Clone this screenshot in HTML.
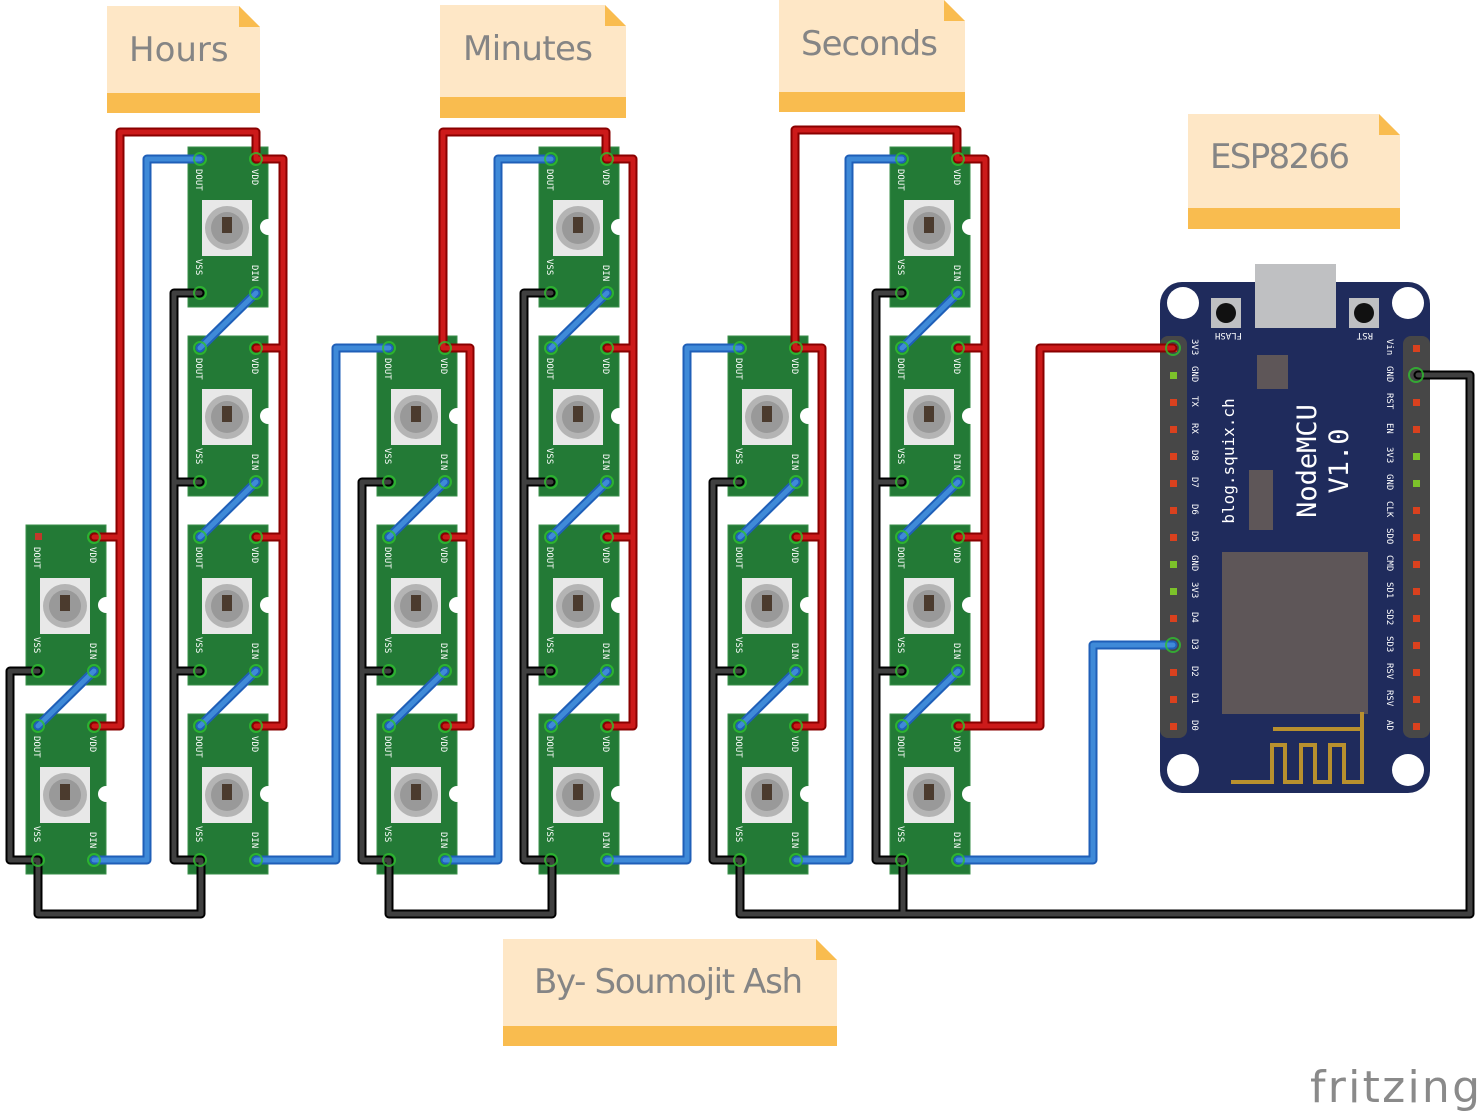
<!DOCTYPE html>
<html><head><meta charset="utf-8"><style>
html,body{margin:0;padding:0;background:#fff;}
svg{display:block}
.pcb{fill:#237a36;stroke:#3a8f4a;stroke-width:1}
.l{font-family:"DejaVu Sans Mono","Liberation Mono",monospace;font-size:9px;fill:#fff}
.pl{font-family:"DejaVu Sans Mono","Liberation Mono",monospace;font-size:9px;fill:#fff}
.note{font-family:"DejaVu Sans","Liberation Sans",sans-serif;font-size:34px;fill:#858585}
.ro{fill:none;stroke:#8a0000;stroke-width:9;stroke-linecap:round;stroke-linejoin:round}
.ri{fill:none;stroke:#cc1a1a;stroke-width:5;stroke-linecap:round;stroke-linejoin:round}
.bo{fill:none;stroke:#1f5fb8;stroke-width:9;stroke-linecap:round;stroke-linejoin:round}
.bi{fill:none;stroke:#3f8ad8;stroke-width:5;stroke-linecap:round;stroke-linejoin:round}
.ko{fill:none;stroke:#000;stroke-width:9;stroke-linecap:round;stroke-linejoin:round}
.ki{fill:none;stroke:#404040;stroke-width:5;stroke-linecap:round;stroke-linejoin:round}
.pad{fill:none;stroke:#2fc02f;stroke-width:2;opacity:.8}
</style></head><body>
<svg width="1482" height="1116" viewBox="0 0 1482 1116" xmlns="http://www.w3.org/2000/svg">

<!-- Notes -->
<g>
<polygon points="107,6 239,6 260,27 260,113 107,113" fill="#fee7c6"/><polygon points="239,6 260,27 239,27" fill="#f9bc4f"/><rect x="107" y="93" width="153" height="20" fill="#f9bc4f"/>
<text class="note" x="129" y="61">Hours</text>
<polygon points="440,5 605,5 626,26 626,118 440,118" fill="#fee7c6"/><polygon points="605,5 626,26 605,26" fill="#f9bc4f"/><rect x="440" y="97" width="186" height="21" fill="#f9bc4f"/>
<text class="note" x="463" y="60" textLength="130">Minutes</text>
<polygon points="779,0 944,0 965,21 965,112 779,112" fill="#fee7c6"/><polygon points="944,0 965,21 944,21" fill="#f9bc4f"/><rect x="779" y="92" width="186" height="20" fill="#f9bc4f"/>
<text class="note" x="801" y="55" textLength="137">Seconds</text>
<polygon points="1188,114 1379,114 1400,135 1400,229 1188,229" fill="#fee7c6"/><polygon points="1379,114 1400,135 1379,135" fill="#f9bc4f"/><rect x="1188" y="208" width="212" height="21" fill="#f9bc4f"/>
<text class="note" x="1210" y="168" textLength="140">ESP8266</text>
<polygon points="503,939 816,939 837,960 837,1046 503,1046" fill="#fee7c6"/><polygon points="816,939 837,960 816,960" fill="#f9bc4f"/><rect x="503" y="1026" width="334" height="20" fill="#f9bc4f"/>
<text class="note" x="534" y="993" textLength="269">By- Soumojit Ash</text>
</g>

<!-- LED modules -->
<g id="mods">
<g transform="translate(26,525)"><rect class="pcb" width="80" height="160"/><rect x="14" y="53" width="50" height="56" fill="#e8e8e8"/><circle cx="39" cy="81" r="22" fill="#b4b4b4"/><circle cx="39" cy="81" r="16" fill="#999"/><rect x="34" y="70" width="10" height="16" fill="#4b3b2e"/><circle cx="80" cy="80" r="8" fill="#fff"/><text class="l" transform="translate(8,22) rotate(90)">DOUT</text><text class="l" transform="translate(64,22) rotate(90)">VDD</text><text class="l" transform="translate(8,112) rotate(90)">VSS</text><text class="l" transform="translate(64,118) rotate(90)">DIN</text><rect x="9" y="8" width="7" height="7" fill="#c0392b"/></g>
<g transform="translate(26,714)"><rect class="pcb" width="80" height="160"/><rect x="14" y="53" width="50" height="56" fill="#e8e8e8"/><circle cx="39" cy="81" r="22" fill="#b4b4b4"/><circle cx="39" cy="81" r="16" fill="#999"/><rect x="34" y="70" width="10" height="16" fill="#4b3b2e"/><circle cx="80" cy="80" r="8" fill="#fff"/><text class="l" transform="translate(8,22) rotate(90)">DOUT</text><text class="l" transform="translate(64,22) rotate(90)">VDD</text><text class="l" transform="translate(8,112) rotate(90)">VSS</text><text class="l" transform="translate(64,118) rotate(90)">DIN</text></g>

<g transform="translate(188,147)"><rect class="pcb" width="80" height="160"/><rect x="14" y="53" width="50" height="56" fill="#e8e8e8"/><circle cx="39" cy="81" r="22" fill="#b4b4b4"/><circle cx="39" cy="81" r="16" fill="#999"/><rect x="34" y="70" width="10" height="16" fill="#4b3b2e"/><circle cx="80" cy="80" r="8" fill="#fff"/><text class="l" transform="translate(8,22) rotate(90)">DOUT</text><text class="l" transform="translate(64,22) rotate(90)">VDD</text><text class="l" transform="translate(8,112) rotate(90)">VSS</text><text class="l" transform="translate(64,118) rotate(90)">DIN</text></g>
<g transform="translate(188,336)"><rect class="pcb" width="80" height="160"/><rect x="14" y="53" width="50" height="56" fill="#e8e8e8"/><circle cx="39" cy="81" r="22" fill="#b4b4b4"/><circle cx="39" cy="81" r="16" fill="#999"/><rect x="34" y="70" width="10" height="16" fill="#4b3b2e"/><circle cx="80" cy="80" r="8" fill="#fff"/><text class="l" transform="translate(8,22) rotate(90)">DOUT</text><text class="l" transform="translate(64,22) rotate(90)">VDD</text><text class="l" transform="translate(8,112) rotate(90)">VSS</text><text class="l" transform="translate(64,118) rotate(90)">DIN</text></g>
<g transform="translate(188,525)"><rect class="pcb" width="80" height="160"/><rect x="14" y="53" width="50" height="56" fill="#e8e8e8"/><circle cx="39" cy="81" r="22" fill="#b4b4b4"/><circle cx="39" cy="81" r="16" fill="#999"/><rect x="34" y="70" width="10" height="16" fill="#4b3b2e"/><circle cx="80" cy="80" r="8" fill="#fff"/><text class="l" transform="translate(8,22) rotate(90)">DOUT</text><text class="l" transform="translate(64,22) rotate(90)">VDD</text><text class="l" transform="translate(8,112) rotate(90)">VSS</text><text class="l" transform="translate(64,118) rotate(90)">DIN</text></g>
<g transform="translate(188,714)"><rect class="pcb" width="80" height="160"/><rect x="14" y="53" width="50" height="56" fill="#e8e8e8"/><circle cx="39" cy="81" r="22" fill="#b4b4b4"/><circle cx="39" cy="81" r="16" fill="#999"/><rect x="34" y="70" width="10" height="16" fill="#4b3b2e"/><circle cx="80" cy="80" r="8" fill="#fff"/><text class="l" transform="translate(8,22) rotate(90)">DOUT</text><text class="l" transform="translate(64,22) rotate(90)">VDD</text><text class="l" transform="translate(8,112) rotate(90)">VSS</text><text class="l" transform="translate(64,118) rotate(90)">DIN</text></g>

<g transform="translate(377,336)"><rect class="pcb" width="80" height="160"/><rect x="14" y="53" width="50" height="56" fill="#e8e8e8"/><circle cx="39" cy="81" r="22" fill="#b4b4b4"/><circle cx="39" cy="81" r="16" fill="#999"/><rect x="34" y="70" width="10" height="16" fill="#4b3b2e"/><circle cx="80" cy="80" r="8" fill="#fff"/><text class="l" transform="translate(8,22) rotate(90)">DOUT</text><text class="l" transform="translate(64,22) rotate(90)">VDD</text><text class="l" transform="translate(8,112) rotate(90)">VSS</text><text class="l" transform="translate(64,118) rotate(90)">DIN</text></g>
<g transform="translate(377,525)"><rect class="pcb" width="80" height="160"/><rect x="14" y="53" width="50" height="56" fill="#e8e8e8"/><circle cx="39" cy="81" r="22" fill="#b4b4b4"/><circle cx="39" cy="81" r="16" fill="#999"/><rect x="34" y="70" width="10" height="16" fill="#4b3b2e"/><circle cx="80" cy="80" r="8" fill="#fff"/><text class="l" transform="translate(8,22) rotate(90)">DOUT</text><text class="l" transform="translate(64,22) rotate(90)">VDD</text><text class="l" transform="translate(8,112) rotate(90)">VSS</text><text class="l" transform="translate(64,118) rotate(90)">DIN</text></g>
<g transform="translate(377,714)"><rect class="pcb" width="80" height="160"/><rect x="14" y="53" width="50" height="56" fill="#e8e8e8"/><circle cx="39" cy="81" r="22" fill="#b4b4b4"/><circle cx="39" cy="81" r="16" fill="#999"/><rect x="34" y="70" width="10" height="16" fill="#4b3b2e"/><circle cx="80" cy="80" r="8" fill="#fff"/><text class="l" transform="translate(8,22) rotate(90)">DOUT</text><text class="l" transform="translate(64,22) rotate(90)">VDD</text><text class="l" transform="translate(8,112) rotate(90)">VSS</text><text class="l" transform="translate(64,118) rotate(90)">DIN</text></g>

<g transform="translate(539,147)"><rect class="pcb" width="80" height="160"/><rect x="14" y="53" width="50" height="56" fill="#e8e8e8"/><circle cx="39" cy="81" r="22" fill="#b4b4b4"/><circle cx="39" cy="81" r="16" fill="#999"/><rect x="34" y="70" width="10" height="16" fill="#4b3b2e"/><circle cx="80" cy="80" r="8" fill="#fff"/><text class="l" transform="translate(8,22) rotate(90)">DOUT</text><text class="l" transform="translate(64,22) rotate(90)">VDD</text><text class="l" transform="translate(8,112) rotate(90)">VSS</text><text class="l" transform="translate(64,118) rotate(90)">DIN</text></g>
<g transform="translate(539,336)"><rect class="pcb" width="80" height="160"/><rect x="14" y="53" width="50" height="56" fill="#e8e8e8"/><circle cx="39" cy="81" r="22" fill="#b4b4b4"/><circle cx="39" cy="81" r="16" fill="#999"/><rect x="34" y="70" width="10" height="16" fill="#4b3b2e"/><circle cx="80" cy="80" r="8" fill="#fff"/><text class="l" transform="translate(8,22) rotate(90)">DOUT</text><text class="l" transform="translate(64,22) rotate(90)">VDD</text><text class="l" transform="translate(8,112) rotate(90)">VSS</text><text class="l" transform="translate(64,118) rotate(90)">DIN</text></g>
<g transform="translate(539,525)"><rect class="pcb" width="80" height="160"/><rect x="14" y="53" width="50" height="56" fill="#e8e8e8"/><circle cx="39" cy="81" r="22" fill="#b4b4b4"/><circle cx="39" cy="81" r="16" fill="#999"/><rect x="34" y="70" width="10" height="16" fill="#4b3b2e"/><circle cx="80" cy="80" r="8" fill="#fff"/><text class="l" transform="translate(8,22) rotate(90)">DOUT</text><text class="l" transform="translate(64,22) rotate(90)">VDD</text><text class="l" transform="translate(8,112) rotate(90)">VSS</text><text class="l" transform="translate(64,118) rotate(90)">DIN</text></g>
<g transform="translate(539,714)"><rect class="pcb" width="80" height="160"/><rect x="14" y="53" width="50" height="56" fill="#e8e8e8"/><circle cx="39" cy="81" r="22" fill="#b4b4b4"/><circle cx="39" cy="81" r="16" fill="#999"/><rect x="34" y="70" width="10" height="16" fill="#4b3b2e"/><circle cx="80" cy="80" r="8" fill="#fff"/><text class="l" transform="translate(8,22) rotate(90)">DOUT</text><text class="l" transform="translate(64,22) rotate(90)">VDD</text><text class="l" transform="translate(8,112) rotate(90)">VSS</text><text class="l" transform="translate(64,118) rotate(90)">DIN</text></g>

<g transform="translate(728,336)"><rect class="pcb" width="80" height="160"/><rect x="14" y="53" width="50" height="56" fill="#e8e8e8"/><circle cx="39" cy="81" r="22" fill="#b4b4b4"/><circle cx="39" cy="81" r="16" fill="#999"/><rect x="34" y="70" width="10" height="16" fill="#4b3b2e"/><circle cx="80" cy="80" r="8" fill="#fff"/><text class="l" transform="translate(8,22) rotate(90)">DOUT</text><text class="l" transform="translate(64,22) rotate(90)">VDD</text><text class="l" transform="translate(8,112) rotate(90)">VSS</text><text class="l" transform="translate(64,118) rotate(90)">DIN</text></g>
<g transform="translate(728,525)"><rect class="pcb" width="80" height="160"/><rect x="14" y="53" width="50" height="56" fill="#e8e8e8"/><circle cx="39" cy="81" r="22" fill="#b4b4b4"/><circle cx="39" cy="81" r="16" fill="#999"/><rect x="34" y="70" width="10" height="16" fill="#4b3b2e"/><circle cx="80" cy="80" r="8" fill="#fff"/><text class="l" transform="translate(8,22) rotate(90)">DOUT</text><text class="l" transform="translate(64,22) rotate(90)">VDD</text><text class="l" transform="translate(8,112) rotate(90)">VSS</text><text class="l" transform="translate(64,118) rotate(90)">DIN</text></g>
<g transform="translate(728,714)"><rect class="pcb" width="80" height="160"/><rect x="14" y="53" width="50" height="56" fill="#e8e8e8"/><circle cx="39" cy="81" r="22" fill="#b4b4b4"/><circle cx="39" cy="81" r="16" fill="#999"/><rect x="34" y="70" width="10" height="16" fill="#4b3b2e"/><circle cx="80" cy="80" r="8" fill="#fff"/><text class="l" transform="translate(8,22) rotate(90)">DOUT</text><text class="l" transform="translate(64,22) rotate(90)">VDD</text><text class="l" transform="translate(8,112) rotate(90)">VSS</text><text class="l" transform="translate(64,118) rotate(90)">DIN</text></g>

<g transform="translate(890,147)"><rect class="pcb" width="80" height="160"/><rect x="14" y="53" width="50" height="56" fill="#e8e8e8"/><circle cx="39" cy="81" r="22" fill="#b4b4b4"/><circle cx="39" cy="81" r="16" fill="#999"/><rect x="34" y="70" width="10" height="16" fill="#4b3b2e"/><circle cx="80" cy="80" r="8" fill="#fff"/><text class="l" transform="translate(8,22) rotate(90)">DOUT</text><text class="l" transform="translate(64,22) rotate(90)">VDD</text><text class="l" transform="translate(8,112) rotate(90)">VSS</text><text class="l" transform="translate(64,118) rotate(90)">DIN</text></g>
<g transform="translate(890,336)"><rect class="pcb" width="80" height="160"/><rect x="14" y="53" width="50" height="56" fill="#e8e8e8"/><circle cx="39" cy="81" r="22" fill="#b4b4b4"/><circle cx="39" cy="81" r="16" fill="#999"/><rect x="34" y="70" width="10" height="16" fill="#4b3b2e"/><circle cx="80" cy="80" r="8" fill="#fff"/><text class="l" transform="translate(8,22) rotate(90)">DOUT</text><text class="l" transform="translate(64,22) rotate(90)">VDD</text><text class="l" transform="translate(8,112) rotate(90)">VSS</text><text class="l" transform="translate(64,118) rotate(90)">DIN</text></g>
<g transform="translate(890,525)"><rect class="pcb" width="80" height="160"/><rect x="14" y="53" width="50" height="56" fill="#e8e8e8"/><circle cx="39" cy="81" r="22" fill="#b4b4b4"/><circle cx="39" cy="81" r="16" fill="#999"/><rect x="34" y="70" width="10" height="16" fill="#4b3b2e"/><circle cx="80" cy="80" r="8" fill="#fff"/><text class="l" transform="translate(8,22) rotate(90)">DOUT</text><text class="l" transform="translate(64,22) rotate(90)">VDD</text><text class="l" transform="translate(8,112) rotate(90)">VSS</text><text class="l" transform="translate(64,118) rotate(90)">DIN</text></g>
<g transform="translate(890,714)"><rect class="pcb" width="80" height="160"/><rect x="14" y="53" width="50" height="56" fill="#e8e8e8"/><circle cx="39" cy="81" r="22" fill="#b4b4b4"/><circle cx="39" cy="81" r="16" fill="#999"/><rect x="34" y="70" width="10" height="16" fill="#4b3b2e"/><circle cx="80" cy="80" r="8" fill="#fff"/><text class="l" transform="translate(8,22) rotate(90)">DOUT</text><text class="l" transform="translate(64,22) rotate(90)">VDD</text><text class="l" transform="translate(8,112) rotate(90)">VSS</text><text class="l" transform="translate(64,118) rotate(90)">DIN</text></g>
</g>

<!-- NodeMCU -->
<g>
<rect x="1255" y="264" width="81" height="64" fill="#bfc0c2"/>
<rect x="1160" y="282" width="270" height="511" rx="22" fill="#1f2b5c"/>
<rect x="1255" y="264" width="81" height="64" fill="#bfc0c2"/>
<circle cx="1183" cy="303" r="16" fill="#fff"/><circle cx="1408" cy="303" r="16" fill="#fff"/>
<circle cx="1183" cy="770" r="16" fill="#fff"/><circle cx="1408" cy="770" r="16" fill="#fff"/>
<rect x="1211" y="298" width="30" height="30" fill="#bfc0c2"/><circle cx="1226" cy="313" r="10" fill="#111"/>
<rect x="1349" y="298" width="30" height="30" fill="#bfc0c2"/><circle cx="1364" cy="313" r="10" fill="#111"/>
<text class="pl" transform="translate(1242,333) rotate(180)">FLASH</text>
<text class="pl" transform="translate(1373,333) rotate(180)">RST</text>
<rect x="1257" y="355" width="31" height="34" fill="#5e5658"/>
<rect x="1249" y="470" width="24" height="60" fill="#5e5658"/>
<rect x="1222" y="552" width="146" height="162" fill="#5e5658"/>
<path d="M1273,729 H1362 M1362,712 V782 H1344 V745 H1330 V782 H1315 V745 H1301 V782 H1285 V745 H1272 V782 H1231" fill="none" stroke="#b8902e" stroke-width="4"/>
<text transform="translate(1234,461) rotate(-90)" text-anchor="middle" font-family="DejaVu Sans Mono,Liberation Mono,monospace" font-size="16" fill="#fff">blog.squix.ch</text>
<text transform="translate(1316,461) rotate(-90)" text-anchor="middle" font-family="DejaVu Sans Mono,Liberation Mono,monospace" font-size="27" fill="#fff">NodeMCU</text>
<text transform="translate(1348,461) rotate(-90)" text-anchor="middle" font-family="DejaVu Sans Mono,Liberation Mono,monospace" font-size="27" fill="#fff">V1.0</text>
<!-- headers -->
<g fill="#474747">
<rect x="1160" y="336" width="27" height="402" rx="8"/>
<rect x="1403" y="336" width="27" height="402" rx="8"/>
</g>
<g fill="#d9411e">
<rect x="1170" y="345" width="7" height="7"/><rect x="1170" y="399" width="7" height="7"/><rect x="1170" y="426" width="7" height="7"/><rect x="1170" y="453" width="7" height="7"/><rect x="1170" y="480" width="7" height="7"/><rect x="1170" y="507" width="7" height="7"/><rect x="1170" y="534" width="7" height="7"/><rect x="1170" y="615" width="7" height="7"/><rect x="1170" y="669" width="7" height="7"/><rect x="1170" y="696" width="7" height="7"/><rect x="1170" y="723" width="7" height="7"/>
<rect x="1413" y="345" width="7" height="7"/><rect x="1413" y="399" width="7" height="7"/><rect x="1413" y="426" width="7" height="7"/><rect x="1413" y="507" width="7" height="7"/><rect x="1413" y="534" width="7" height="7"/><rect x="1413" y="561" width="7" height="7"/><rect x="1413" y="588" width="7" height="7"/><rect x="1413" y="615" width="7" height="7"/><rect x="1413" y="642" width="7" height="7"/><rect x="1413" y="669" width="7" height="7"/><rect x="1413" y="696" width="7" height="7"/><rect x="1413" y="723" width="7" height="7"/>
</g>
<g fill="#7cc22a">
<rect x="1170" y="372" width="7" height="7"/><rect x="1170" y="561" width="7" height="7"/><rect x="1170" y="588" width="7" height="7"/>
<rect x="1413" y="453" width="7" height="7"/><rect x="1413" y="480" width="7" height="7"/>
</g>
<g class="pl">
<text transform="translate(1192,339) rotate(90)">3V3</text><text transform="translate(1192,366) rotate(90)">GND</text><text transform="translate(1192,396) rotate(90)">TX</text><text transform="translate(1192,423) rotate(90)">RX</text><text transform="translate(1192,450) rotate(90)">D8</text><text transform="translate(1192,477) rotate(90)">D7</text><text transform="translate(1192,504) rotate(90)">D6</text><text transform="translate(1192,531) rotate(90)">D5</text><text transform="translate(1192,555) rotate(90)">GND</text><text transform="translate(1192,582) rotate(90)">3V3</text><text transform="translate(1192,612) rotate(90)">D4</text><text transform="translate(1192,639) rotate(90)">D3</text><text transform="translate(1192,666) rotate(90)">D2</text><text transform="translate(1192,693) rotate(90)">D1</text><text transform="translate(1192,720) rotate(90)">D0</text>
<text transform="translate(1387,339) rotate(90)">Vin</text><text transform="translate(1387,366) rotate(90)">GND</text><text transform="translate(1387,393) rotate(90)">RST</text><text transform="translate(1387,423) rotate(90)">EN</text><text transform="translate(1387,447) rotate(90)">3V3</text><text transform="translate(1387,474) rotate(90)">GND</text><text transform="translate(1387,501) rotate(90)">CLK</text><text transform="translate(1387,528) rotate(90)">SDO</text><text transform="translate(1387,555) rotate(90)">CMD</text><text transform="translate(1387,582) rotate(90)">SD1</text><text transform="translate(1387,609) rotate(90)">SD2</text><text transform="translate(1387,636) rotate(90)">SD3</text><text transform="translate(1387,663) rotate(90)">RSV</text><text transform="translate(1387,690) rotate(90)">RSV</text><text transform="translate(1387,720) rotate(90)">AD</text>
</g>
</g>

<!-- Wires: black -->
<g>
<path class="ko" d="M38,671 H10 V860 H38 M38,860 V914 H201 V860 M200,293 H174 V860 H200 M174,482 H200 M174,671 H200 M389,482 H362 V860 H389 M362,671 H389 M389,860 V914 H552 V860 M551,293 H524 V860 H551 M524,482 H551 M524,671 H551 M740,482 H713 V860 H740 M713,671 H740 M740,860 V914 H1470 V375 H1418 M902,293 H876 V860 H902 M876,482 H902 M876,671 H902 M903,860 V914"/>
<path class="ki" d="M38,671 H10 V860 H38 M38,860 V914 H201 V860 M200,293 H174 V860 H200 M174,482 H200 M174,671 H200 M389,482 H362 V860 H389 M362,671 H389 M389,860 V914 H552 V860 M551,293 H524 V860 H551 M524,482 H551 M524,671 H551 M740,482 H713 V860 H740 M713,671 H740 M740,860 V914 H1470 V375 H1418 M902,293 H876 V860 H902 M876,482 H902 M876,671 H902 M903,860 V914"/>
</g>
<!-- Wires: red -->
<g>
<path class="ro" d="M94,537 H120 M94,726 H120 V132 H256 V159 H283 V726 H256 M256,348 H283 M256,537 H283 M445,348 H443 V132 H606 V159 H633 V726 H607 M607,348 H633 M607,537 H633 M445,348 H470 V726 H445 M445,537 H470 M796,348 H795 V130 H957 V159 H985 V726 H1040 V348 H1173 M796,348 H822 V726 H796 M796,537 H822 M958,348 H985 M958,537 H985 M958,726 H985"/>
<path class="ri" d="M94,537 H120 M94,726 H120 V132 H256 V159 H283 V726 H256 M256,348 H283 M256,537 H283 M445,348 H443 V132 H606 V159 H633 V726 H607 M607,348 H633 M607,537 H633 M445,348 H470 V726 H445 M445,537 H470 M796,348 H795 V130 H957 V159 H985 V726 H1040 V348 H1173 M796,348 H822 V726 H796 M796,537 H822 M958,348 H985 M958,537 H985 M958,726 H985"/>
</g>
<!-- Wires: blue -->
<g>
<path class="bo" d="M94,671 L38,726 M256,293 L200,348 M256,482 L200,537 M256,671 L200,726 M445,482 L389,537 M445,671 L389,726 M607,293 L551,348 M607,482 L551,537 M607,671 L551,726 M796,482 L740,537 M796,671 L740,726 M958,293 L902,348 M958,482 L902,537 M958,671 L902,726 M94,860 H147 V159 H200 M256,860 H336 V348 H389 M445,860 H498 V159 H551 M607,860 H687 V348 H740 M796,860 H849 V159 H902 M958,860 H1093 V645 H1173"/>
<path class="bi" d="M94,671 L38,726 M256,293 L200,348 M256,482 L200,537 M256,671 L200,726 M445,482 L389,537 M445,671 L389,726 M607,293 L551,348 M607,482 L551,537 M607,671 L551,726 M796,482 L740,537 M796,671 L740,726 M958,293 L902,348 M958,482 L902,537 M958,671 L902,726 M94,860 H147 V159 H200 M256,860 H336 V348 H389 M445,860 H498 V159 H551 M607,860 H687 V348 H740 M796,860 H849 V159 H902 M958,860 H1093 V645 H1173"/>
</g>
<!-- pad rings -->
<g class="pad">
<circle cx="38" cy="726" r="6"/><circle cx="94" cy="726" r="6"/><circle cx="38" cy="860" r="6"/><circle cx="94" cy="860" r="6"/><circle cx="94" cy="537" r="6"/><circle cx="38" cy="671" r="6"/><circle cx="94" cy="671" r="6"/>
<circle cx="200" cy="159" r="6"/><circle cx="256" cy="159" r="6"/><circle cx="200" cy="293" r="6"/><circle cx="256" cy="293" r="6"/>
<circle cx="200" cy="348" r="6"/><circle cx="256" cy="348" r="6"/><circle cx="200" cy="482" r="6"/><circle cx="256" cy="482" r="6"/>
<circle cx="200" cy="537" r="6"/><circle cx="256" cy="537" r="6"/><circle cx="200" cy="671" r="6"/><circle cx="256" cy="671" r="6"/>
<circle cx="200" cy="726" r="6"/><circle cx="256" cy="726" r="6"/><circle cx="200" cy="860" r="6"/><circle cx="256" cy="860" r="6"/>
<circle cx="389" cy="348" r="6"/><circle cx="445" cy="348" r="6"/><circle cx="389" cy="482" r="6"/><circle cx="445" cy="482" r="6"/>
<circle cx="389" cy="537" r="6"/><circle cx="445" cy="537" r="6"/><circle cx="389" cy="671" r="6"/><circle cx="445" cy="671" r="6"/>
<circle cx="389" cy="726" r="6"/><circle cx="445" cy="726" r="6"/><circle cx="389" cy="860" r="6"/><circle cx="445" cy="860" r="6"/>
<circle cx="551" cy="159" r="6"/><circle cx="607" cy="159" r="6"/><circle cx="551" cy="293" r="6"/><circle cx="607" cy="293" r="6"/>
<circle cx="551" cy="348" r="6"/><circle cx="607" cy="348" r="6"/><circle cx="551" cy="482" r="6"/><circle cx="607" cy="482" r="6"/>
<circle cx="551" cy="537" r="6"/><circle cx="607" cy="537" r="6"/><circle cx="551" cy="671" r="6"/><circle cx="607" cy="671" r="6"/>
<circle cx="551" cy="726" r="6"/><circle cx="607" cy="726" r="6"/><circle cx="551" cy="860" r="6"/><circle cx="607" cy="860" r="6"/>
<circle cx="740" cy="348" r="6"/><circle cx="796" cy="348" r="6"/><circle cx="740" cy="482" r="6"/><circle cx="796" cy="482" r="6"/>
<circle cx="740" cy="537" r="6"/><circle cx="796" cy="537" r="6"/><circle cx="740" cy="671" r="6"/><circle cx="796" cy="671" r="6"/>
<circle cx="740" cy="726" r="6"/><circle cx="796" cy="726" r="6"/><circle cx="740" cy="860" r="6"/><circle cx="796" cy="860" r="6"/>
<circle cx="902" cy="159" r="6"/><circle cx="958" cy="159" r="6"/><circle cx="902" cy="293" r="6"/><circle cx="958" cy="293" r="6"/>
<circle cx="902" cy="348" r="6"/><circle cx="958" cy="348" r="6"/><circle cx="902" cy="482" r="6"/><circle cx="958" cy="482" r="6"/>
<circle cx="902" cy="537" r="6"/><circle cx="958" cy="537" r="6"/><circle cx="902" cy="671" r="6"/><circle cx="958" cy="671" r="6"/>
<circle cx="902" cy="726" r="6"/><circle cx="958" cy="726" r="6"/><circle cx="902" cy="860" r="6"/><circle cx="958" cy="860" r="6"/>
<circle cx="1173" cy="348" r="7"/><circle cx="1173" cy="645" r="7"/><circle cx="1416" cy="375" r="7"/>
</g>

<!-- fritzing logo -->
<text x="1310" y="1102" font-family="DejaVu Sans,Liberation Sans,sans-serif" font-size="44" fill="#8a8a8a" textLength="170">fritzing</text>
</svg>
</body></html>
